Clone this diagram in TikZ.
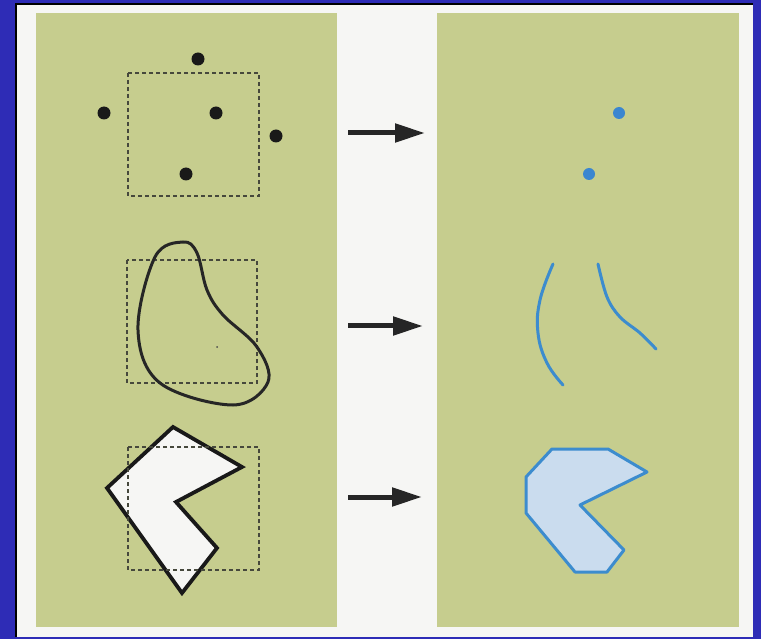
\documentclass[tikz,border=0pt]{standalone}
\usetikzlibrary{arrows.meta}
\definecolor{frameblue}{RGB}{46,44,182}
\definecolor{paper}{RGB}{246,246,244}
\definecolor{olive}{RGB}{198,205,142}
\definecolor{dotblue}{RGB}{58,134,208}
\definecolor{lineblue}{RGB}{60,140,206}
\definecolor{fillblue}{RGB}{202,220,238}
\definecolor{dashgray}{RGB}{70,72,60}
\tikzset{
  panel/.style={fill=olive, draw=none},
  bbox/.style={draw=dashgray, line width=1.1pt, dash pattern=on 4pt off 3pt},
  blackdot/.style={circle, fill=black!90, inner sep=0pt, minimum size=13pt},
  bluedot/.style={circle, fill=dotblue, inner sep=0pt, minimum size=12pt},
  maparrow/.style={draw=black!85, line width=5pt, -{Triangle[length=30pt,width=18pt]}},
  blueline/.style={draw=lineblue, line width=3pt, line cap=round},
}
\begin{document}
\begin{tikzpicture}[x=1pt,y=-1pt]
\useasboundingbox (0,0) rectangle (761,639);
% frame
\fill[frameblue] (0,0) rectangle (761,639);
\fill[black] (15,3) rectangle (753,637);
\fill[paper] (17,5) rectangle (753,637);
% panels
\fill[panel] (36,13) rectangle (337,627);
\fill[panel] (437,13) rectangle (739,627);

% row 1: points
\draw[bbox] (128,73) rectangle (259,196);
\node[blackdot] (p1) at (198,59) {};
\node[blackdot] (p2) at (104,113) {};
\node[blackdot] (p3) at (216,113) {};
\node[blackdot] (p4) at (276,136) {};
\node[blackdot] (p5) at (186,174) {};
\node[bluedot] (q1) at (619,113) {};
\node[bluedot] (q2) at (589,174) {};

% row 2: blob
\draw[bbox] (127,260) rectangle (257,383);
\draw[line width=3pt, black!85] plot[smooth cycle, tension=0.6] coordinates
  {(183,242) (197,253) (207,290) (223,315) (257,347) (268,382) (233,405) (160,383) (138,330) (155,257)};
\fill[black!70] (217,347) circle (1pt);
\draw[blueline] plot[smooth, tension=0.7] coordinates {(553,264) (540,300) (538,333) (547,363) (563,385)};
\draw[blueline] plot[smooth, tension=0.6] coordinates {(598,264) (607,297) (620,317) (640,333) (656,349)};

% row 3: polygon
\draw[fill=paper, draw=black!90, line width=3.8pt, line join=miter]
  (173,427) -- (242,467) -- (176,502) -- (217,548) -- (182,593) -- (107,488) -- cycle;
\draw[bbox] (128,447) rectangle (259,570);
\draw[fill=fillblue, draw=lineblue, line width=3pt, line join=round]
  (552,449) -- (608,449) -- (647,472) -- (580,505) -- (624,550) -- (607,572) -- (575,572) -- (526,513) -- (526,477) -- cycle;

% arrows
\coordinate (a1s) at (348,133); \coordinate (a1e) at (425,133);
\coordinate (a2s) at (348,326); \coordinate (a2e) at (423,326);
\coordinate (a3s) at (348,497); \coordinate (a3e) at (422,497);
\draw[maparrow] (a1s) -- (a1e);
\draw[maparrow] (a2s) -- (a2e);
\draw[maparrow] (a3s) -- (a3e);
\end{tikzpicture}
\end{document}
